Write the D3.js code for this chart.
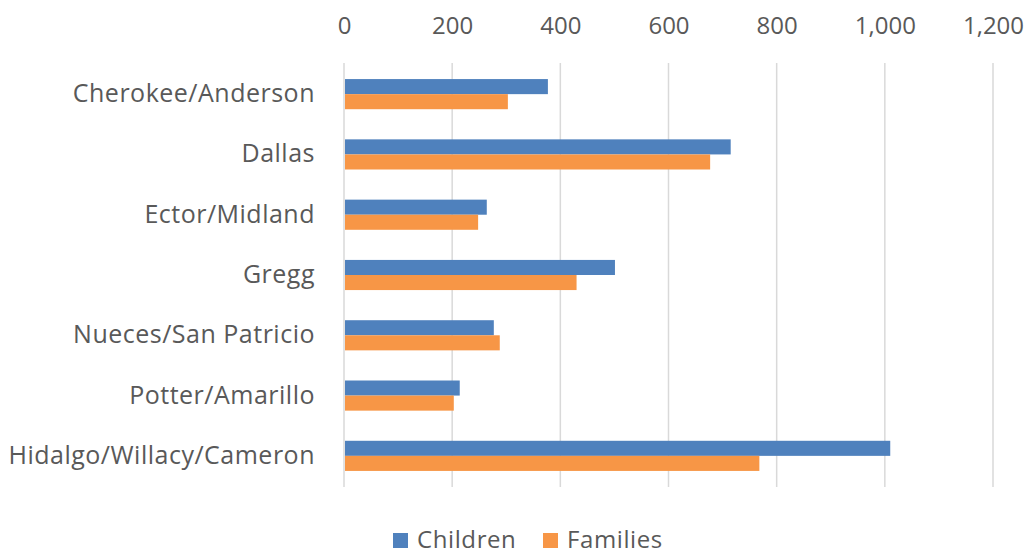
<!DOCTYPE html>
<html><head><meta charset="utf-8">
<script src="https://cdn.jsdelivr.net/npm/d3@7"></script>
<style>
html,body{margin:0;padding:0;background:#fff;}
text{font-family:"Open Sans",sans-serif;fill:#595959;}
</style></head>
<body><svg id="c" width="1031" height="554"></svg>
<script>
const categories = ["Cherokee/Anderson","Dallas","Ector/Midland","Gregg","Nueces/San Patricio","Potter/Amarillo","Hidalgo/Willacy/Cameron"];
const children = [377, 715, 264, 501, 277, 214, 1010];
const families = [303, 677, 248, 430, 288, 203, 768];
const seriesNames = ["Children","Families"];
const colors = ["#4f81bd","#f79646"];
const ticks = [0,200,400,600,800,1000,1200];

const svg = d3.select("#c");
const m = {left:344, right:993, top:64, bottom:486};
const x = d3.scaleLinear().domain([0,1200]).range([m.left, m.right]);
const y = d3.scaleBand().domain(categories).range([m.top, m.bottom]).paddingInner(0.5).paddingOuter(0.25);
const y1 = d3.scaleBand().domain(seriesNames).range([0, y.bandwidth()]);

// gridlines
svg.append("g").selectAll("line").data(ticks).join("line")
  .attr("x1", d=>x(d)).attr("x2", d=>x(d)).attr("y1", 63).attr("y2", 487)
  .attr("stroke","#d9d9d9").attr("stroke-width",1.5);

// top axis labels
const ax = d3.axisTop(x).tickValues(ticks).tickFormat(d3.format(",")).tickSize(0).tickPadding(0);
const axg = svg.append("g").attr("transform","translate(0,34)").call(ax);
axg.select(".domain").remove();
axg.selectAll("text").style("font-size","24px").style("font-family","'Open Sans',sans-serif").attr("fill","#595959").attr("dy","0");

// category labels
const ay = d3.axisLeft(y).tickSize(0).tickPadding(0);
const ayg = svg.append("g").attr("transform","translate(315,0)").call(ay);
ayg.select(".domain").remove();
ayg.selectAll("text").style("font-size","25px").style("font-family","'Open Sans',sans-serif").style("letter-spacing","0.5px").attr("fill","#595959");

// bars
const data = categories.map((c,i)=>({c, vals:[children[i], families[i]]}));
const g = svg.append("g").selectAll("g").data(data).join("g")
  .attr("transform", d=>`translate(0,${y(d.c)})`);
g.selectAll("rect").data(d=>d.vals.map((v,j)=>({v, s:seriesNames[j], j}))).join("rect")
  .attr("x", x(0)+1).attr("y", d=>y1(d.s)).attr("height", y1.bandwidth())
  .attr("width", d=>x(d.v)-x(0)-1).attr("fill", d=>colors[d.j]);

// legend
const leg = svg.append("g").attr("transform","translate(393,533)");
const items = [{n:"Children",x:0},{n:"Families",x:150}];
items.forEach((it,i)=>{
  leg.append("rect").attr("x",it.x).attr("y",0).attr("width",15).attr("height",15).attr("fill",colors[i]);
  leg.append("text").attr("x",it.x+24).attr("y",15).style("font-size","24px").style("letter-spacing","0.6px").text(it.n);
});
</script></body></html>
